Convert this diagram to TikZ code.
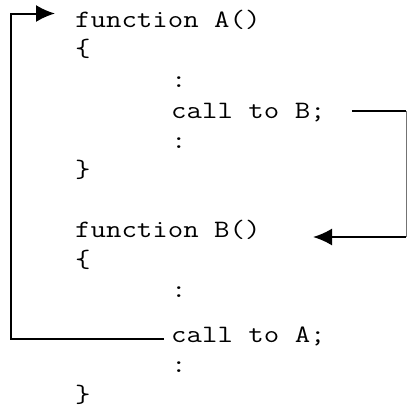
\documentclass[tikz,border=0pt]{standalone}
\usepackage{fontspec}
\setmonofont{Latin Modern Mono}[FakeStretch=1.2]
\usetikzlibrary{arrows.meta,positioning}

\begin{document}
\begin{tikzpicture}[x=1pt,y=-1pt,
  every node/.style={font=\ttfamily\fontsize{25}{30}\selectfont,inner sep=0pt,anchor=base west},
  wire/.style={line width=2pt},
  thinwire/.style={line width=0.9pt,black!55},
  link/.style={line width=2pt,-{Latex[length=19pt,width=17pt]}}]
\useasboundingbox (0,0) rectangle (407,408);
% first function
\node (funA) at (75,27) {function A()};
\node (openA) at (75,56) {\{};
\node (dotsA1) at (171,87) {:};
\node (callB) at (171,118) {call to B;};
\node (dotsA2) at (171,148) {:};
\node (closeA) at (75,177) {\}};
% second function
\node (funB) at (75,237) {function B()};
\node (openB) at (75,267) {\{};
\node (dotsB1) at (171,297) {:};
\node (callA) at (171,342) {call to A;};
\node (dotsB2) at (171,372) {:};
\node (closeB) at (75,402) {\}};
% A calls B
\coordinate (bOut) at ([xshift=26pt,yshift=7pt]callB.base east);
\coordinate (bTurn) at (406,111);
\coordinate (bBack) at (406,237);
\coordinate (bIn) at (313,237);
\draw[wire] (bOut)--(bTurn);
\draw[thinwire] (bTurn)--(bBack);
\draw[link] (bBack)--(bIn);
% B calls A
\coordinate (aOut) at ([xshift=-7pt,yshift=3pt]callA.base west);
\coordinate (aIn) at ([xshift=-20pt,yshift=13.5pt]funA.base west);
\draw[link] (aOut)-|(11,13.5)--(aIn);
\end{tikzpicture}
\end{document}
